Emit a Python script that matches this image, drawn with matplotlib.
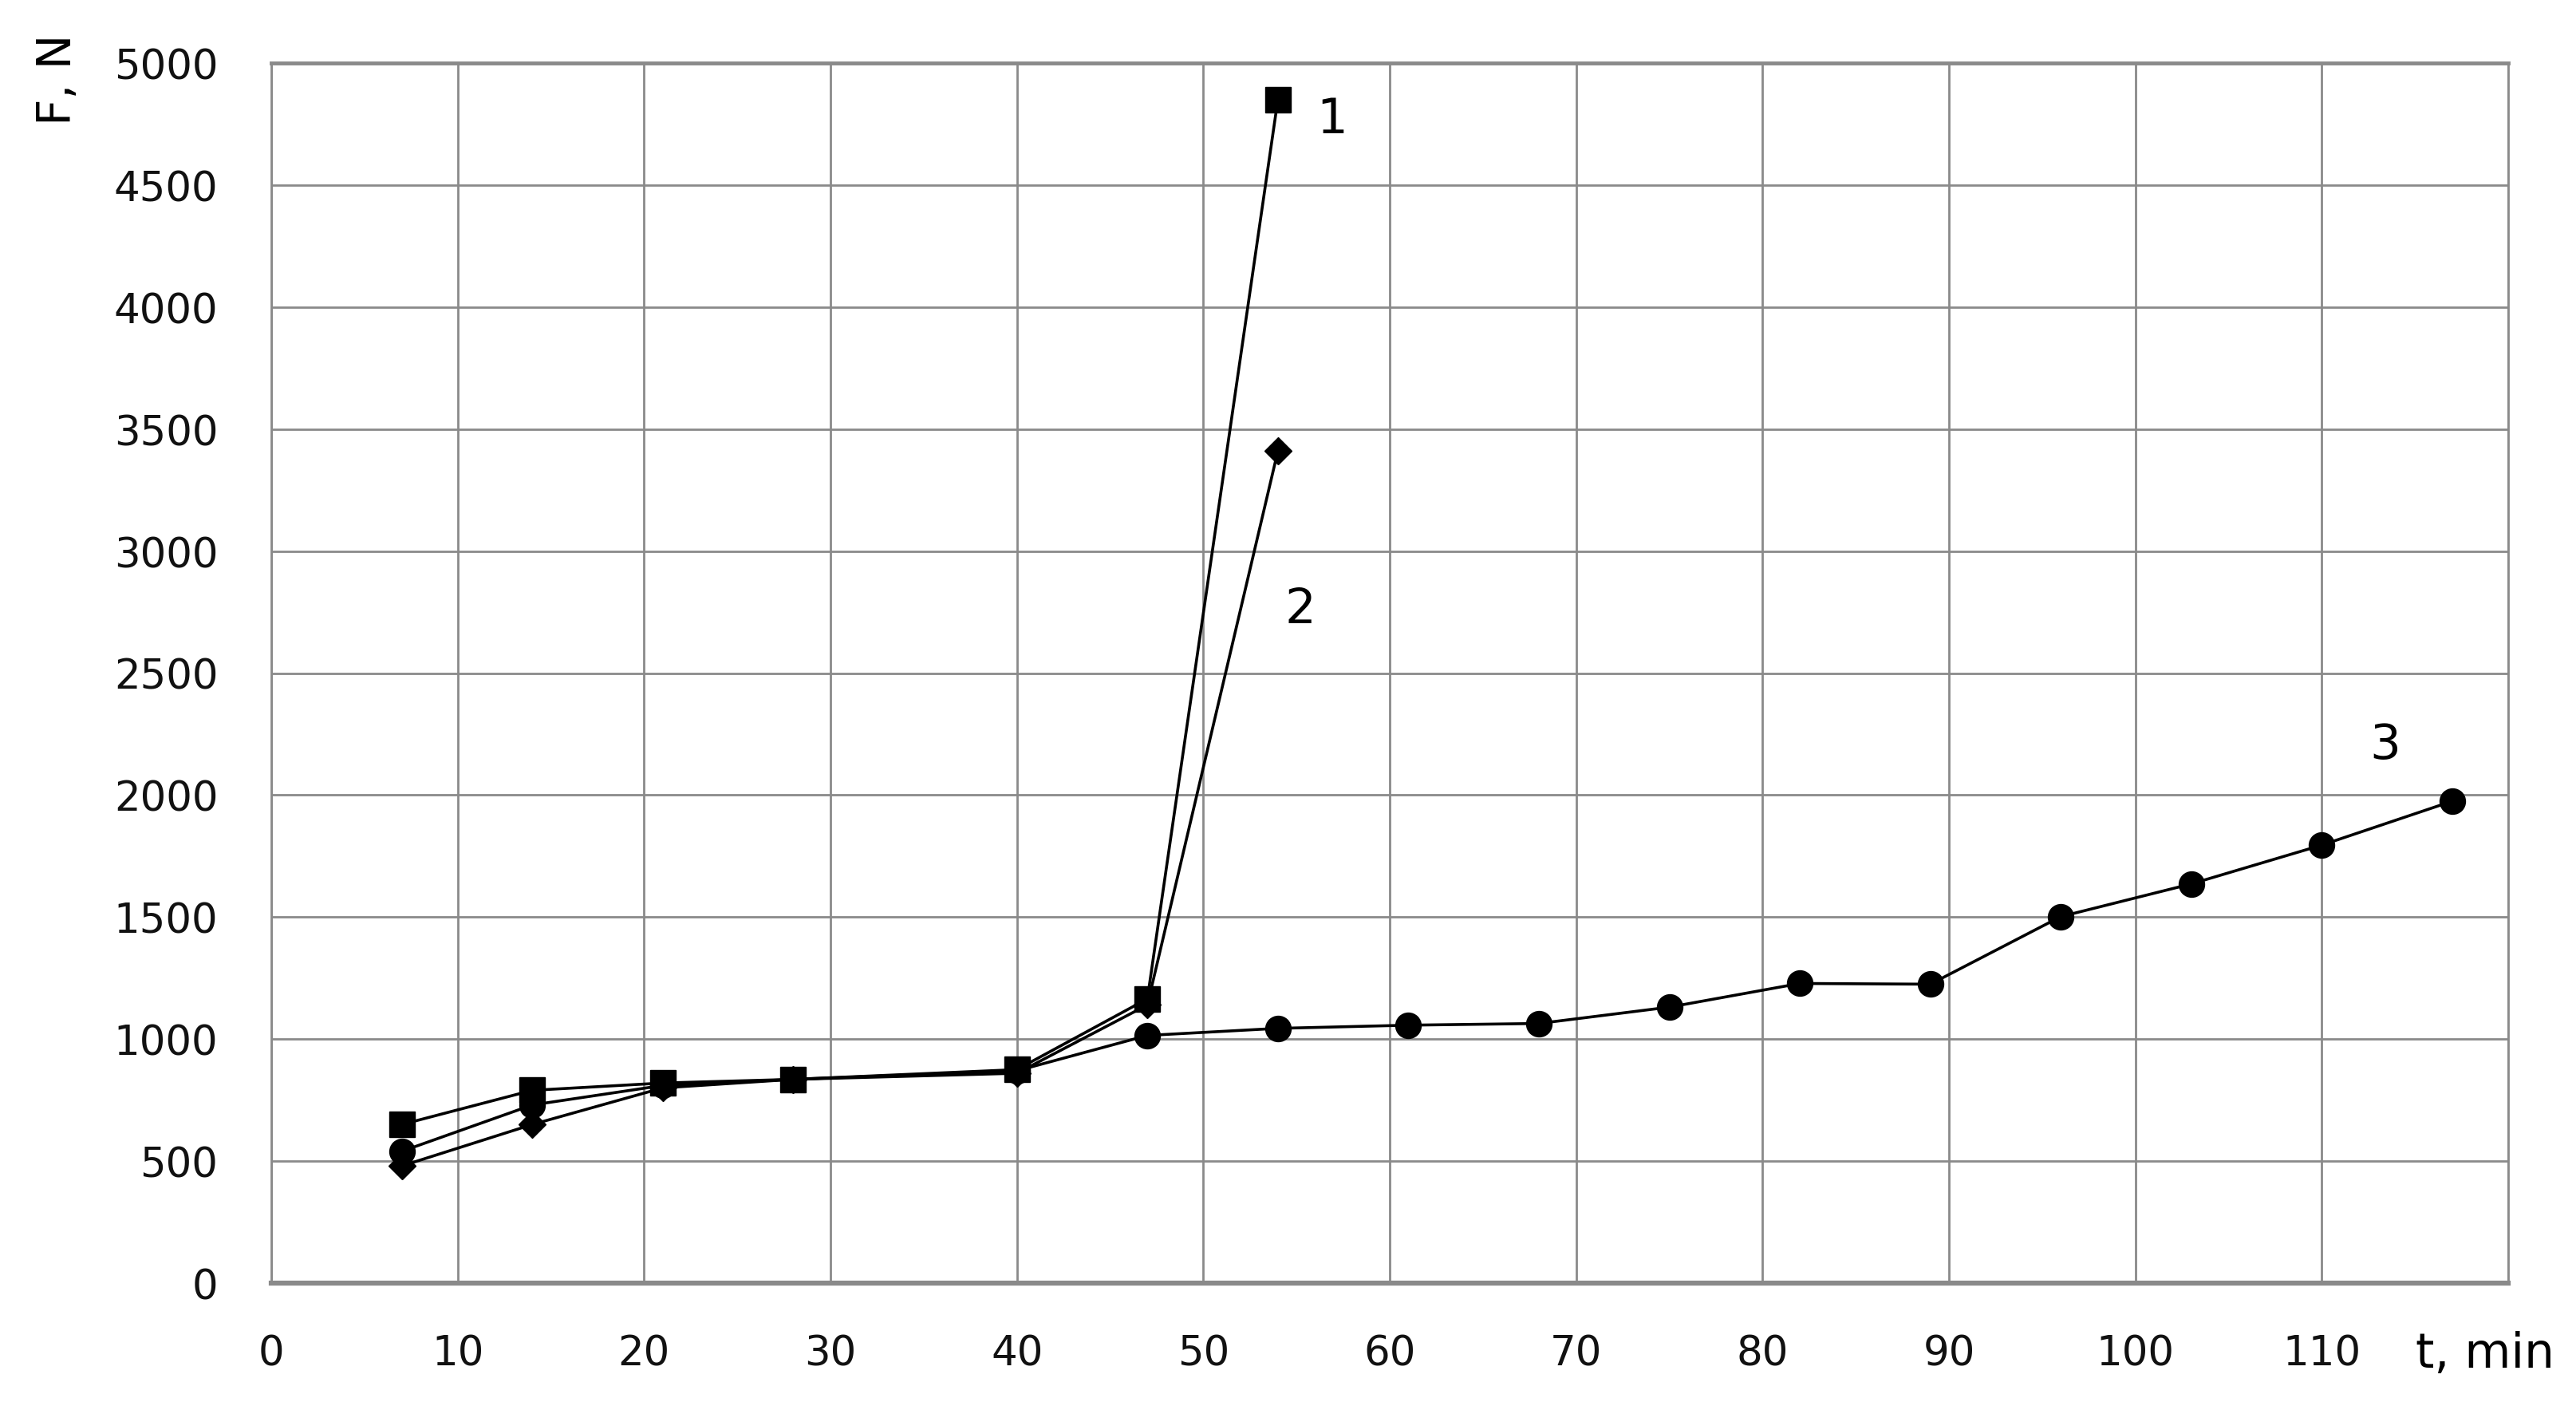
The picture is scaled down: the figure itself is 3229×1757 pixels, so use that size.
import matplotlib
matplotlib.use("Agg")
import matplotlib.pyplot as plt

# Data
t1 = [7, 14, 21, 28, 40, 47, 54]
f1 = [650, 790, 820, 835, 875, 1165, 4850]
t2 = [7, 14, 21, 28, 40, 47, 54]
f2 = [480, 650, 800, 835, 860, 1140, 3410]
t3 = [7, 14, 21, 28, 40, 47, 54, 61, 68, 75, 82, 89, 96, 103, 110, 117]
f3 = [540, 730, 810, 835, 870, 1015, 1044, 1057, 1064, 1131, 1228, 1225, 1502, 1636, 1795, 1975]
xticks = list(range(0, 121, 10))
xticklabels = [str(v) for v in range(0, 111, 10)] + [""]
yticks = list(range(0, 5001, 500))
curve_labels = ["1", "2", "3"]
curve_label_pos = [(56.9, 4768), (55.2, 2763), (113.4, 2207)]

plt.rcParams['font.family'] = ['DejaVu Sans']
fig = plt.figure(figsize=(32.29, 17.58), dpi=100)
ax = fig.add_axes([340/3229, 1 - 1609/1758, 2804/3229, 1529/1758])

lw = 2.6
ax.plot(t3, f3, color='black', lw=lw, marker='o', ms=23, zorder=3)
ax.plot(t2, f2, color='black', lw=lw, marker='D', ms=17, zorder=4)
ax.plot(t1, f1, color='black', lw=lw, marker='s', ms=23, zorder=5)

ax.set_xlim(0, 120)
ax.set_ylim(0, 5000)
ax.set_xticks(xticks)
ax.set_xticklabels(xticklabels)
ax.set_yticks(yticks)
ax.tick_params(axis='both', length=0, labelsize=37, colors='#111111')
ax.tick_params(axis='y', pad=48)
ax.tick_params(axis='x', pad=46)
ax.grid(True, color='#8a8a8a', lw=2.0)
ax.set_axisbelow(True)
for s in ax.spines.values():
    s.set_color('#8a8a8a')
    s.set_linewidth(2.0)
ax.spines['bottom'].set_linewidth(4.5)
ax.spines['top'].set_linewidth(3.5)

for lab, (x, y) in zip(curve_labels, curve_label_pos):
    ax.text(x, y, lab, fontsize=44, ha='center', va='center', color='#000000')

ax.text(0.9897, -0.058, "t, min", transform=ax.transAxes, fontsize=43,
        ha='center', va='center', color='#000000')
fig.text(72/3229, 1 - 100/1758, "F, N", rotation=90, fontsize=42,
         ha='center', va='center', color='#000000')

fig.savefig("out.png", dpi=100, facecolor='white')
